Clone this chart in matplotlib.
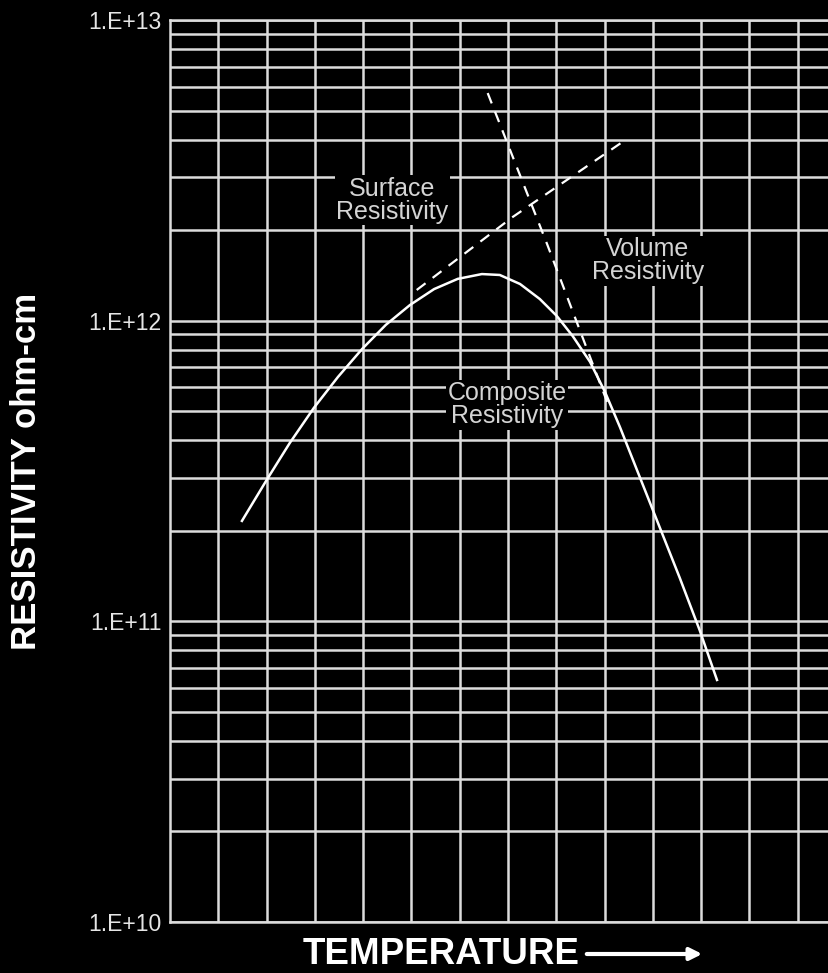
import numpy as np
import matplotlib
matplotlib.use("Agg")
import matplotlib.pyplot as plt
from matplotlib.ticker import FixedLocator, LogLocator, NullFormatter

plt.rcParams['font.family'] = ['Liberation Sans', 'DejaVu Sans']

# values (temperature in grid units, log10 of resistivity)
comp_x = [1.49, 1.99, 2.48, 2.98, 3.48, 3.98, 4.47, 4.97, 5.47, 5.96, 6.46, 6.83,
          7.25, 7.66, 8.01, 8.34, 8.70, 9.01, 9.32, 9.73, 10.15, 10.56, 10.97, 11.33]
comp_logy = [11.334, 11.467, 11.593, 11.710, 11.813, 11.906, 11.986, 12.052, 12.105,
             12.139, 12.155, 12.152, 12.122, 12.072, 12.016, 11.949, 11.863, 11.763,
             11.646, 11.480, 11.310, 11.144, 10.971, 10.805]

surf_x = [5.11, 7.10, 9.46]
surf_logy = [12.102, 12.345, 12.604]

vol_x = [6.58, 7.81, 9.07]
vol_logy = [12.757, 12.255, 11.723]

ytick_vals = [1e10, 1e11, 1e12, 1e13]
ytick_labels = ["1.E+10", "1.E+11", "1.E+12", "1.E+13"]

grid_c = "#dcdcdc"
txt_c = "#d4d4d4"

fig = plt.figure(figsize=(8.29, 9.73), dpi=100, facecolor="black")
ax = fig.add_axes([170 / 829, 51 / 973, 659 / 829, 902 / 973], facecolor="black")

ax.set_yscale("log")
ax.set_ylim(1e10, 1e13)
ax.set_xlim(0, 13.65)

ax.xaxis.set_major_locator(FixedLocator(np.arange(1, 14)))
ax.yaxis.set_major_locator(FixedLocator(ytick_vals))
ax.yaxis.set_minor_locator(LogLocator(base=10, subs=np.arange(2, 10)))
ax.yaxis.set_minor_formatter(NullFormatter())
ax.set_yticklabels(ytick_labels)
ax.set_xticklabels([])
ax.tick_params(which="both", length=0, colors="#e6e6e6")
ax.tick_params(axis="y", labelsize=16.5, pad=6)

ax.grid(True, which="major", axis="x", color=grid_c, lw=1.8)
ax.grid(True, which="both", axis="y", color=grid_c, lw=1.8)
ax.set_axisbelow(True)
for s in ax.spines.values():
    s.set_color(grid_c)
    s.set_linewidth(1.8)
ax.spines["right"].set_visible(False)

ax.plot(comp_x, 10 ** np.array(comp_logy), color="white", lw=1.8, zorder=3)
ax.plot(surf_x, 10 ** np.array(surf_logy), color="white", lw=1.6,
        dashes=(5, 4), zorder=3)
ax.plot(vol_x, 10 ** np.array(vol_logy), color="white", lw=1.6,
        dashes=(5, 4), zorder=3)

box = dict(facecolor="black", edgecolor="none", pad=1)
ax.text(4.6, 10 ** 12.4, "Surface\nResistivity", color=txt_c, fontsize=18,
        ha="center", va="center", linespacing=0.95, bbox=box, zorder=4)
ax.text(9.9, 10 ** 12.2, "Volume\nResistivity", color=txt_c, fontsize=18,
        ha="center", va="center", linespacing=0.95, bbox=box, zorder=4)
ax.text(6.98, 10 ** 11.72, "Composite\nResistivity", color=txt_c, fontsize=18,
        ha="center", va="center", linespacing=0.95, bbox=box, zorder=4)

fig.text(27 / 829, 1 - 471 / 973, "RESISTIVITY ohm-cm", color="white",
         fontsize=25, fontweight="bold", rotation=90, ha="center", va="center")
fig.text(441 / 829, 1 - 964 / 973, "TEMPERATURE", color="white",
         fontsize=26.5, fontweight="bold", ha="center", va="baseline")
fig.add_artist(matplotlib.patches.FancyArrowPatch(
    (584 / 829, 1 - 954 / 973), (705 / 829, 1 - 954 / 973),
    transform=fig.transFigure, arrowstyle="-|>", mutation_scale=18,
    color="white", lw=3))

fig.savefig("out.png", dpi=100, facecolor="black")
